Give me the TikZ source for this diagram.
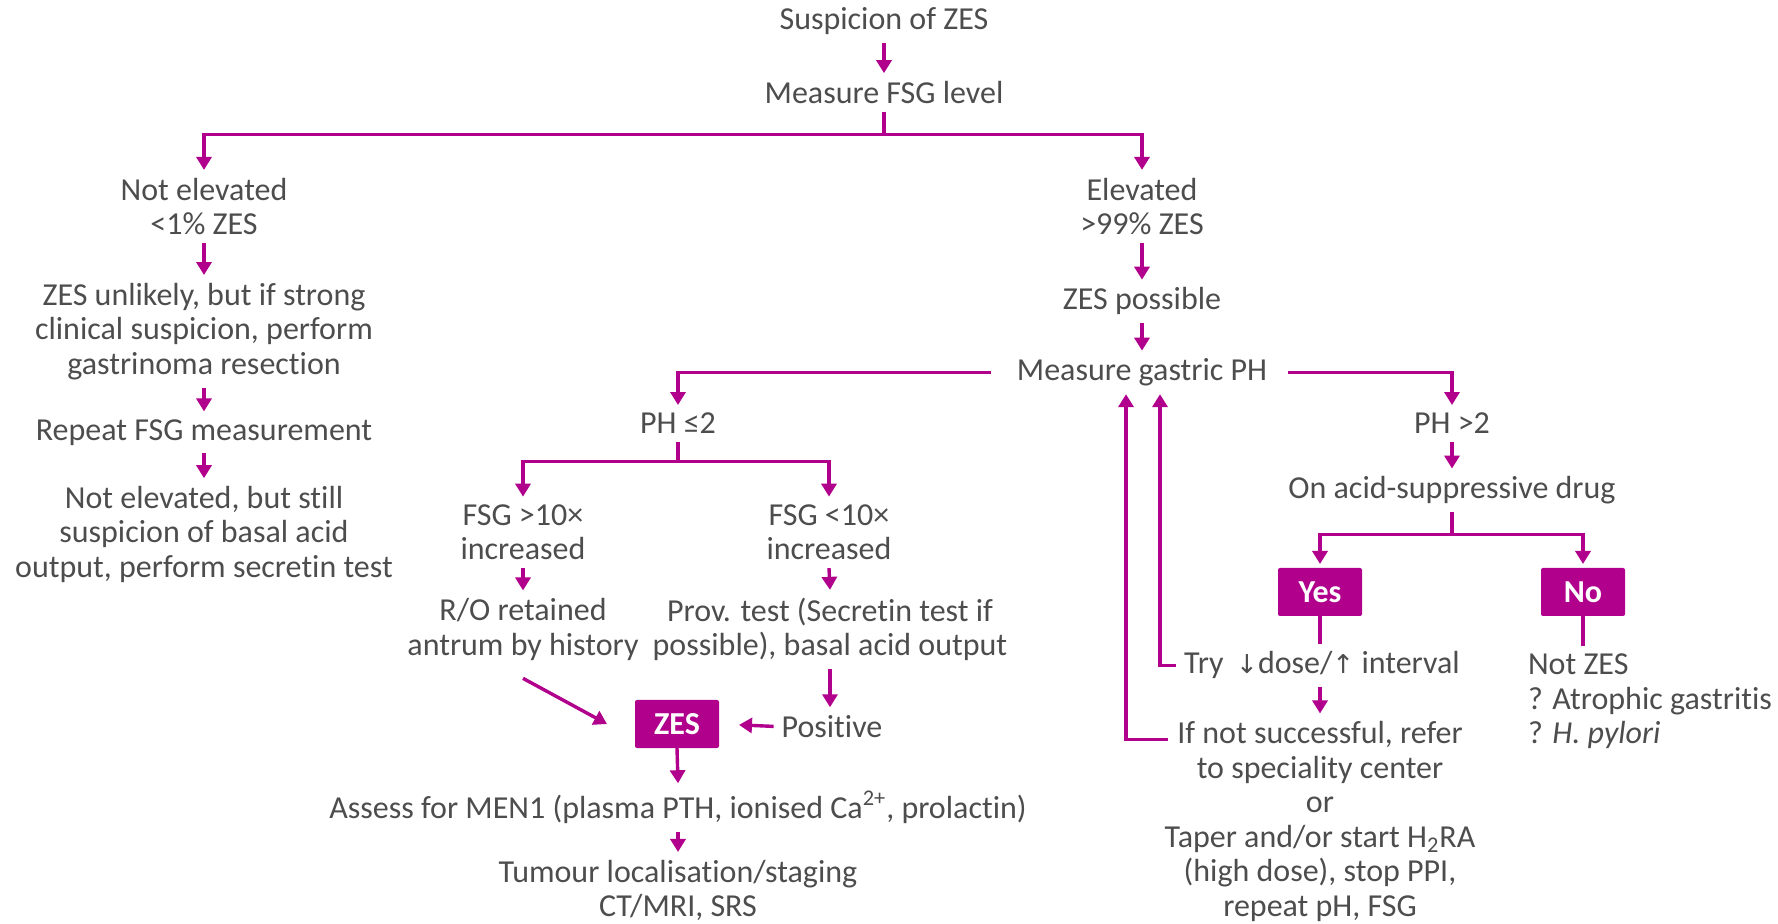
\documentclass[tikz,border=0pt]{standalone}
\usepackage{fontspec}
\setmainfont{Carlito}[Ligatures=NoCommon]
\newfontfamily\dejavu{DejaVu Sans}
\usetikzlibrary{arrows.meta,calc}
\definecolor{mag}{HTML}{B0008C}
\definecolor{txt}{HTML}{4D4D4D}
\begin{document}
\begin{tikzpicture}[x=0.5pt,y=-0.5pt,
  every node/.style={font=\fontsize{16}{17.25}\selectfont, text=txt, inner sep=0pt, outer sep=4pt, align=center, yshift=-1.2pt},
  arr/.style={draw=mag, line width=1.7pt, -{Triangle[width=7.5pt,length=6.5pt]}},
  ln/.style={draw=mag, line width=1.7pt},
  box/.style={fill=mag, text=white, font=\fontsize{16}{17}\selectfont\bfseries, minimum width=42pt, minimum height=24pt, rounded corners=1pt, outer sep=0pt, yshift=1.2pt}]
\useasboundingbox (0,0) rectangle (1778,924);

\node (susp) at (884,19) {Suspicion of ZES};
\node (fsg) at (884,90) {Measure FSG level};
\node (notel) at (204,204) {Not elevated\\<1\% ZES};
\node (elev) at (1142,204) {Elevated\\>99\% ZES};
\node (unl) at (204,329) {ZES unlikely, but if strong\\clinical suspicion, perform\\gastrinoma resection};
\node (rep) at (204,430) {Repeat FSG measurement};
\node (notel2) at (204,532) {Not elevated, but still\\suspicion of basal acid\\output, perform secretin test};
\node (poss) at (1142,299) {ZES possible};
\node (gas) at (1142,370) {Measure gastric PH};
\node (phl) at (678,421) {PH ≤2};
\node (phg) at (1452,421) {PH >2};
\node (fa) at (523,530) {FSG >10×\\increased};
\node (fb) at (829,530) {FSG <10×\\increased};
\node (ro) at (523,627) {R/O retained\\antrum by history};
\node (prov) at (830,627) {Prov. test (Secretin test if\\possible), basal acid output};
\node (pos) at (832,724) {Positive};
\node[box] (zes) at (677,724) {ZES};
\node (assess) at (678,805) {Assess for MEN1 (plasma PTH, ionised Ca\textsuperscript{2+}, prolactin)};
\node (tum) at (678,888) {Tumour localisation/staging\\CT/MRI, SRS};
\node (acid) at (1452,488) {On acid-suppressive drug};
\node[box] (yes) at (1320,592) {Yes};
\node[box] (no) at (1583,592) {No};
\node (try) at (1322,663) {Try \,{\dejavu\fontsize{13}{14}\selectfont↓}dose/{\dejavu\fontsize{13}{14}\selectfont↑} interval};
\node (ifnot) at (1320,819) {If not successful, refer\\to speciality center\\or\\Taper and/or start H\textsubscript{2}RA\\(high dose), stop PPI,\\repeat pH, FSG};
\node[anchor=west, align=left] (notzes) at (1520,699) {Not ZES\\? Atrophic gastritis\\? \textit{H. pylori}};
\coordinate (ifs) at (1168,737);

\draw[arr] (susp.south) -- (fsg.north);
\draw[arr] (fsg.south) -- ++(0,23) -| (notel.north);
\draw[arr] (fsg.south) -- ++(0,23) -| (elev.north);
\draw[arr] (notel.south) -- (unl.north);
\draw[arr] (unl.south) -- (rep.north);
\draw[arr] (rep.south) -- (notel2.north);
\draw[arr] (elev.south) -- (poss.north);
\draw[arr] (poss.south) -- (gas.north);
\draw[arr, shorten <=9pt] (gas.west) -| (phl.north);
\draw[arr, shorten <=6.5pt] (gas.east) -| (phg.north);
\draw[arr] (phl.south) -- ++(0,20) -| (fa.north);
\draw[arr] (phl.south) -- ++(0,20) -| (fb.north);
\draw[arr] (fa.south) -- (ro.north);
\draw[arr] (fb.south) -- (prov.north);
\draw[arr] (prov.south) -- (prov.south |- pos.north);
\draw[arr, shorten >=10pt] (pos.west) -- (zes.east);
\draw[arr] ([yshift=-5pt]ro.south) -- ([xshift=-14pt]zes.west);
\draw[arr] (zes.south) -- (assess.north);
\draw[arr] (assess.south) -- (tum.north);
\draw[arr] (phg.south) -- (acid.north);
\draw[arr, shorten >=2pt] (acid.south) -- ++(0,22) -| (yes.north);
\draw[arr, shorten >=2pt] (acid.south) -- ++(0,22) -| (no.north);
\draw[ln] (yes.south) -- (yes.south |- try.north);
\draw[ln] (no.south) -- (no.south |- notzes.north);
\draw[arr] (try.south -| ifnot.north) -- (ifnot.north);
\draw[arr] (try.west) -| ([xshift=9pt]gas.south);
\draw[arr] (ifs) -| ([xshift=-8pt]gas.south);
\end{tikzpicture}
\end{document}
